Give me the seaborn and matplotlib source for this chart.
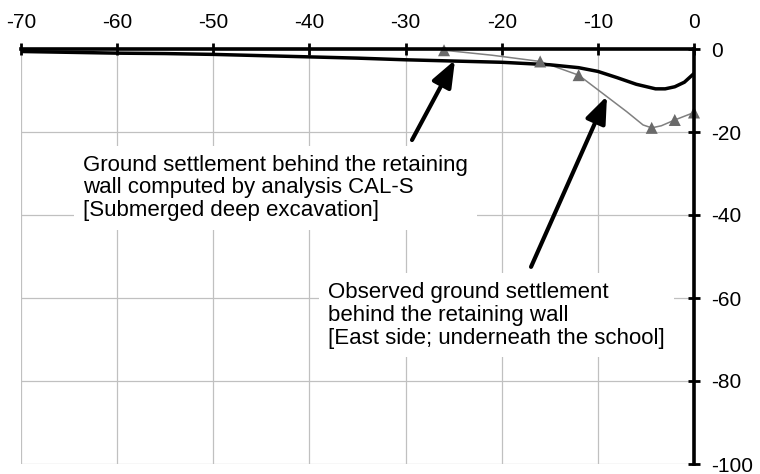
import matplotlib
matplotlib.use("Agg")
import matplotlib.pyplot as plt
import seaborn as sns
import numpy as np
import pandas as pd

# Distance from the retaining wall (m) and settlement (mm)
calc_x = [-70, -65, -60, -55, -50, -45, -40, -35, -30, -25, -20, -15, -12, -10, -8, -6, -4, -3, -2, -1, 0]
calc_y = [-0.6, -0.8, -1.0, -1.1, -1.3, -1.6, -1.9, -2.2, -2.6, -2.9, -3.2, -3.8, -4.5, -5.4, -6.9, -8.5, -9.6, -9.6, -9.1, -8.0, -5.9]

# Observed settlement trace and the measured survey points
obs_curve_x = [-26, -21, -16, -12, -9.5, -7, -5.3, -4.4, -3.4, -2, 0]
obs_curve_y = [-0.3, -1.5, -3.0, -6.3, -10.7, -15.1, -18.3, -19.0, -18.5, -17.1, -15.3]
obs_pts_x = [-26, -16, -12, -4.4, -2, 0]
obs_pts_y = [-0.3, -3.0, -6.3, -19.0, -17.1, -15.3]

x_ticks = [-70, -60, -50, -40, -30, -20, -10, 0]
y_ticks = [0, -20, -40, -60, -80, -100]

label_calc = "Ground settlement behind the retaining\nwall computed by analysis CAL-S\n[Submerged deep excavation]"
label_obs = "Observed ground settlement\nbehind the retaining wall\n[East side; underneath the school]"

sns.set_theme(style="white")
plt.rcParams["font.family"] = ["Liberation Sans", "DejaVu Sans"]
plt.rcParams["text.color"] = "black"
plt.rcParams["xtick.color"] = "black"
plt.rcParams["ytick.color"] = "black"

fig = plt.figure(figsize=(7.6, 4.74), dpi=100)
ax = fig.add_axes([21 / 760, 1 - 464 / 474, (694 - 21) / 760, (464 - 49) / 474])

calc_df = pd.DataFrame({"x": calc_x, "y": calc_y})
obs_df = pd.DataFrame({"x": obs_curve_x, "y": obs_curve_y})
pts_df = pd.DataFrame({"x": obs_pts_x, "y": obs_pts_y})

sns.lineplot(data=calc_df, x="x", y="y", ax=ax, color="black", lw=2.5,
             estimator=None, sort=False, zorder=4)
sns.lineplot(data=obs_df, x="x", y="y", ax=ax, color="#808080", lw=1.1,
             estimator=None, sort=False, zorder=3)
sns.scatterplot(data=pts_df, x="x", y="y", ax=ax, marker="^", s=75,
                color="#6a6a6a", edgecolor="none", zorder=5, clip_on=False)

ax.set_xlim(-70, 0)
ax.set_ylim(-100, 0)
ax.set_xticks(x_ticks)
ax.set_yticks(y_ticks)
ax.set_xticklabels([str(v) for v in x_ticks])
ax.set_yticklabels([str(v) for v in y_ticks])
ax.xaxis.tick_top()
ax.yaxis.tick_right()
ax.set_xlabel("")
ax.set_ylabel("")

ax.grid(True, color="#c0c0c0", lw=0.9, zorder=0)
ax.set_axisbelow(True)

for side in ["left", "bottom"]:
    ax.spines[side].set_visible(False)
for side in ["top", "right"]:
    ax.spines[side].set_visible(True)
    ax.spines[side].set_color("black")
    ax.spines[side].set_linewidth(2.6)
    ax.spines[side].set_zorder(6)

ax.tick_params(axis="x", which="major", direction="inout", length=9, width=2,
               color="black", labelcolor="black", labelsize=15, pad=8, top=True, bottom=False)
ax.tick_params(axis="y", which="major", direction="inout", length=9, width=2,
               color="black", labelcolor="black", labelsize=15, pad=8, right=True, left=False)

box = dict(boxstyle="square,pad=0.4", fc="white", ec="none")
ax.text(-63.55, -33.4, label_calc, fontsize=16, va="center", ha="left",
        linespacing=1.1, bbox=box, zorder=2)
ax.text(-38.07, -64.2, label_obs, fontsize=16, va="center", ha="left",
        linespacing=1.1, bbox=box, zorder=2)

arrow = dict(arrowstyle="-|>,head_length=0.9,head_width=0.35", lw=3, color="black",
             mutation_scale=18, shrinkA=0, shrinkB=0)
ax.annotate("", xy=(-24.86, -2.65), xytext=(-29.33, -21.93), arrowprops=arrow, zorder=7)
ax.annotate("", xy=(-9.05, -11.33), xytext=(-16.95, -52.5), arrowprops=arrow, zorder=7)

fig.savefig("out.png", dpi=100)
